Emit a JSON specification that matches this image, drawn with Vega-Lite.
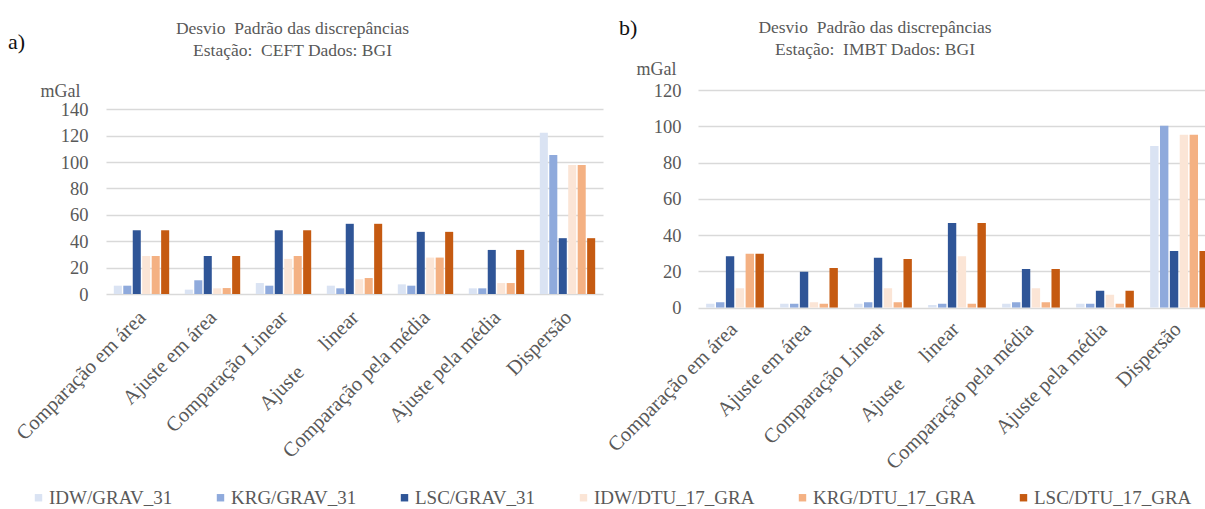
{
  "$schema": "https://vega.github.io/schema/vega-lite/v6.json",
  "padding": {"left": 8, "top": 17, "right": 0, "bottom": 0},
  "autosize": {"type": "pad"},
  "spacing": 1,
  "resolve": {"scale": {"x": "independent", "y": "independent", "xOffset": "independent"}},
  "config": {
    "font": "Liberation Serif, Times New Roman, DejaVu Serif, serif",
    "view": {"stroke": null},
    "title": {"font": "Liberation Serif, Times New Roman, DejaVu Serif, serif", "fontWeight": "normal"},
    "axis": {"labelFont": "Liberation Serif, Times New Roman, DejaVu Serif, serif", "titleFont": "Liberation Serif, Times New Roman, DejaVu Serif, serif"},
    "legend": {"labelFont": "Liberation Serif, Times New Roman, DejaVu Serif, serif"}
  },
  "hconcat": [
    {
      "title": {"text": "a)", "anchor": "start", "frame": "group", "fontSize": 22, "color": "#111111", "offset": 0, "dx": -98, "dy": 34},
      "resolve": {"scale": {"x": "independent", "y": "independent", "xOffset": "independent"}},
      "vconcat": [
        {
          "width": 497,
          "height": 204,
          "title": {"text": ["Desvio\u00a0\u00a0Padrão das discrepâncias", "Estação:\u00a0\u00a0CEFT Dados: BGI"], "anchor": "middle", "frame": "group", "dx": -62, "offset": 23, "fontSize": 17.5, "lineHeight": 22, "color": "#595959"},
          "data": {"values": [
            {"cat": "Comparação em área", "series": "IDW/GRAV_31", "value": 6.3},
            {"cat": "Comparação em área", "series": "KRG/GRAV_31", "value": 6.3},
            {"cat": "Comparação em área", "series": "LSC/GRAV_31", "value": 48.3},
            {"cat": "Comparação em área", "series": "IDW/DTU_17_GRA", "value": 28.8},
            {"cat": "Comparação em área", "series": "KRG/DTU_17_GRA", "value": 28.8},
            {"cat": "Comparação em área", "series": "LSC/DTU_17_GRA", "value": 48.3},
            {"cat": "Ajuste em área", "series": "IDW/GRAV_31", "value": 3.3},
            {"cat": "Ajuste em área", "series": "KRG/GRAV_31", "value": 10.4},
            {"cat": "Ajuste em área", "series": "LSC/GRAV_31", "value": 28.8},
            {"cat": "Ajuste em área", "series": "IDW/DTU_17_GRA", "value": 4.3},
            {"cat": "Ajuste em área", "series": "KRG/DTU_17_GRA", "value": 4.5},
            {"cat": "Ajuste em área", "series": "LSC/DTU_17_GRA", "value": 28.8},
            {"cat": "Comparação Linear", "series": "IDW/GRAV_31", "value": 8.3},
            {"cat": "Comparação Linear", "series": "KRG/GRAV_31", "value": 6.3},
            {"cat": "Comparação Linear", "series": "LSC/GRAV_31", "value": 48.3},
            {"cat": "Comparação Linear", "series": "IDW/DTU_17_GRA", "value": 26.6},
            {"cat": "Comparação Linear", "series": "KRG/DTU_17_GRA", "value": 28.8},
            {"cat": "Comparação Linear", "series": "LSC/DTU_17_GRA", "value": 48.3},
            {"cat": "Ajuste\u00a0\u00a0\u00a0\u00a0\u00a0\u00a0linear", "series": "IDW/GRAV_31", "value": 6.3},
            {"cat": "Ajuste\u00a0\u00a0\u00a0\u00a0\u00a0\u00a0linear", "series": "KRG/GRAV_31", "value": 4.3},
            {"cat": "Ajuste\u00a0\u00a0\u00a0\u00a0\u00a0\u00a0linear", "series": "LSC/GRAV_31", "value": 53.2},
            {"cat": "Ajuste\u00a0\u00a0\u00a0\u00a0\u00a0\u00a0linear", "series": "IDW/DTU_17_GRA", "value": 11.1},
            {"cat": "Ajuste\u00a0\u00a0\u00a0\u00a0\u00a0\u00a0linear", "series": "KRG/DTU_17_GRA", "value": 12.1},
            {"cat": "Ajuste\u00a0\u00a0\u00a0\u00a0\u00a0\u00a0linear", "series": "LSC/DTU_17_GRA", "value": 53.2},
            {"cat": "Comparação pela média", "series": "IDW/GRAV_31", "value": 7.3},
            {"cat": "Comparação pela média", "series": "KRG/GRAV_31", "value": 6.3},
            {"cat": "Comparação pela média", "series": "LSC/GRAV_31", "value": 47.1},
            {"cat": "Comparação pela média", "series": "IDW/DTU_17_GRA", "value": 27.6},
            {"cat": "Comparação pela média", "series": "KRG/DTU_17_GRA", "value": 27.6},
            {"cat": "Comparação pela média", "series": "LSC/DTU_17_GRA", "value": 47.1},
            {"cat": "Ajuste pela média", "series": "IDW/GRAV_31", "value": 4.3},
            {"cat": "Ajuste pela média", "series": "KRG/GRAV_31", "value": 4.3},
            {"cat": "Ajuste pela média", "series": "LSC/GRAV_31", "value": 33.4},
            {"cat": "Ajuste pela média", "series": "IDW/DTU_17_GRA", "value": 8.3},
            {"cat": "Ajuste pela média", "series": "KRG/DTU_17_GRA", "value": 8.3},
            {"cat": "Ajuste pela média", "series": "LSC/DTU_17_GRA", "value": 33.4},
            {"cat": "Dispersão", "series": "IDW/GRAV_31", "value": 122.2},
            {"cat": "Dispersão", "series": "KRG/GRAV_31", "value": 105.3},
            {"cat": "Dispersão", "series": "LSC/GRAV_31", "value": 42.3},
            {"cat": "Dispersão", "series": "IDW/DTU_17_GRA", "value": 97.7},
            {"cat": "Dispersão", "series": "KRG/DTU_17_GRA", "value": 97.7},
            {"cat": "Dispersão", "series": "LSC/DTU_17_GRA", "value": 42.3}
          ]},
          "mark": {"type": "bar"},
          "encoding": {
            "x": {
              "field": "cat", "type": "nominal", "sort": null,
              "scale": {"domain": ["Comparação em área", "Ajuste em área", "Comparação Linear", "Ajuste\u00a0\u00a0\u00a0\u00a0\u00a0\u00a0linear", "Comparação pela média", "Ajuste pela média", "Dispersão"], "paddingInner": 0.22, "paddingOuter": 0.11},
              "axis": {"title": null, "labelAngle": -45, "labelFontSize": 20.5, "labelColor": "#595959", "ticks": false, "tickSize": 0, "domain": false, "labelPadding": 13, "labelOffset": -6, "labelLimit": 400, "labelOverlap": false, "grid": false}
            },
            "xOffset": {"field": "series", "scale": {"domain": ["IDW/GRAV_31", "KRG/GRAV_31", "LSC/GRAV_31", "IDW/DTU_17_GRA", "KRG/DTU_17_GRA", "LSC/DTU_17_GRA"], "paddingInner": 0.15, "paddingOuter": 0}},
            "y": {
              "field": "value", "type": "quantitative",
              "scale": {"domain": [0, 154.6], "nice": false},
              "axis": {"values": [0, 20, 40, 60, 80, 100, 120, 140], "title": "mGal", "titleAngle": 0, "titleAlign": "left", "titleBaseline": "middle", "titleX": -66, "titleY": 1, "titleFontSize": 18, "titleFontWeight": "normal", "titleColor": "#595959", "labelFontSize": 18.5, "labelColor": "#595959", "labelPadding": 18, "ticks": false, "tickSize": 0, "domain": false, "grid": true, "gridColor": "#d9d9d9", "gridWidth": 1.3}
            },
            "color": {
              "field": "series", "type": "nominal",
              "scale": {"domain": ["IDW/GRAV_31", "KRG/GRAV_31", "LSC/GRAV_31", "IDW/DTU_17_GRA", "KRG/DTU_17_GRA", "LSC/DTU_17_GRA"], "range": ["#dae3f3", "#8faadc", "#2f5597", "#fbe5d6", "#f4b183", "#c55a11"]},
              "legend": {"orient": "none", "legendX": -77, "legendY": 398, "direction": "horizontal", "columns": 6, "title": null, "symbolType": "square", "symbolSize": 55, "symbolStrokeWidth": 0, "labelFontSize": 19, "labelColor": "#595959", "columnPadding": 38, "labelOffset": 1, "labelLimit": 300}
            }
          }
        }
      ]
    },
    {
      "title": {"text": "b)", "anchor": "start", "frame": "group", "fontSize": 22, "color": "#111111", "offset": 0, "dx": -79, "dy": 21.7},
      "resolve": {"scale": {"x": "independent", "y": "independent", "xOffset": "independent"}},
      "vconcat": [
        {
          "width": 508,
          "height": 217.7,
          "title": {"text": ["Desvio\u00a0\u00a0Padrão das discrepâncias", "Estação:\u00a0\u00a0IMBT Dados: BGI"], "anchor": "middle", "frame": "group", "dx": -77, "offset": 2, "fontSize": 17.5, "lineHeight": 22, "color": "#595959"},
          "data": {"values": [
            {"cat": "Comparação em área", "series": "IDW/GRAV_31", "value": 2.2},
            {"cat": "Comparação em área", "series": "KRG/GRAV_31", "value": 3.0},
            {"cat": "Comparação em área", "series": "LSC/GRAV_31", "value": 28.3},
            {"cat": "Comparação em área", "series": "IDW/DTU_17_GRA", "value": 10.7},
            {"cat": "Comparação em área", "series": "KRG/DTU_17_GRA", "value": 29.8},
            {"cat": "Comparação em área", "series": "LSC/DTU_17_GRA", "value": 29.8},
            {"cat": "Ajuste em área", "series": "IDW/GRAV_31", "value": 2.2},
            {"cat": "Ajuste em área", "series": "KRG/GRAV_31", "value": 2.2},
            {"cat": "Ajuste em área", "series": "LSC/GRAV_31", "value": 19.8},
            {"cat": "Ajuste em área", "series": "IDW/DTU_17_GRA", "value": 3.0},
            {"cat": "Ajuste em área", "series": "KRG/DTU_17_GRA", "value": 2.2},
            {"cat": "Ajuste em área", "series": "LSC/DTU_17_GRA", "value": 21.9},
            {"cat": "Comparação Linear", "series": "IDW/GRAV_31", "value": 2.2},
            {"cat": "Comparação Linear", "series": "KRG/GRAV_31", "value": 3.0},
            {"cat": "Comparação Linear", "series": "LSC/GRAV_31", "value": 27.6},
            {"cat": "Comparação Linear", "series": "IDW/DTU_17_GRA", "value": 10.7},
            {"cat": "Comparação Linear", "series": "KRG/DTU_17_GRA", "value": 3.0},
            {"cat": "Comparação Linear", "series": "LSC/DTU_17_GRA", "value": 26.8},
            {"cat": "Ajuste\u00a0\u00a0\u00a0\u00a0\u00a0\u00a0linear", "series": "IDW/GRAV_31", "value": 1.5},
            {"cat": "Ajuste\u00a0\u00a0\u00a0\u00a0\u00a0\u00a0linear", "series": "KRG/GRAV_31", "value": 2.2},
            {"cat": "Ajuste\u00a0\u00a0\u00a0\u00a0\u00a0\u00a0linear", "series": "LSC/GRAV_31", "value": 46.7},
            {"cat": "Ajuste\u00a0\u00a0\u00a0\u00a0\u00a0\u00a0linear", "series": "IDW/DTU_17_GRA", "value": 28.3},
            {"cat": "Ajuste\u00a0\u00a0\u00a0\u00a0\u00a0\u00a0linear", "series": "KRG/DTU_17_GRA", "value": 2.2},
            {"cat": "Ajuste\u00a0\u00a0\u00a0\u00a0\u00a0\u00a0linear", "series": "LSC/DTU_17_GRA", "value": 46.7},
            {"cat": "Comparação pela média", "series": "IDW/GRAV_31", "value": 2.2},
            {"cat": "Comparação pela média", "series": "KRG/GRAV_31", "value": 3.0},
            {"cat": "Comparação pela média", "series": "LSC/GRAV_31", "value": 21.3},
            {"cat": "Comparação pela média", "series": "IDW/DTU_17_GRA", "value": 10.7},
            {"cat": "Comparação pela média", "series": "KRG/DTU_17_GRA", "value": 3.0},
            {"cat": "Comparação pela média", "series": "LSC/DTU_17_GRA", "value": 21.3},
            {"cat": "Ajuste pela média", "series": "IDW/GRAV_31", "value": 2.2},
            {"cat": "Ajuste pela média", "series": "KRG/GRAV_31", "value": 2.2},
            {"cat": "Ajuste pela média", "series": "LSC/GRAV_31", "value": 9.4},
            {"cat": "Ajuste pela média", "series": "IDW/DTU_17_GRA", "value": 7.2},
            {"cat": "Ajuste pela média", "series": "KRG/DTU_17_GRA", "value": 2.2},
            {"cat": "Ajuste pela média", "series": "LSC/DTU_17_GRA", "value": 9.4},
            {"cat": "Dispersão", "series": "IDW/GRAV_31", "value": 89.1},
            {"cat": "Dispersão", "series": "KRG/GRAV_31", "value": 100.3},
            {"cat": "Dispersão", "series": "LSC/GRAV_31", "value": 31.2},
            {"cat": "Dispersão", "series": "IDW/DTU_17_GRA", "value": 95.4},
            {"cat": "Dispersão", "series": "KRG/DTU_17_GRA", "value": 95.4},
            {"cat": "Dispersão", "series": "LSC/DTU_17_GRA", "value": 31.2}
          ]},
          "mark": {"type": "bar", "clip": true},
          "encoding": {
            "x": {
              "field": "cat", "type": "nominal", "sort": null,
              "scale": {"domain": ["Comparação em área", "Ajuste em área", "Comparação Linear", "Ajuste\u00a0\u00a0\u00a0\u00a0\u00a0\u00a0linear", "Comparação pela média", "Ajuste pela média", "Dispersão"], "paddingInner": 0.22, "paddingOuter": 0.11, "range": [0, 518]},
              "axis": {"title": null, "labelAngle": -45, "labelFontSize": 20.5, "labelColor": "#595959", "ticks": false, "tickSize": 0, "domain": false, "labelPadding": 11, "labelOffset": -8, "labelLimit": 400, "labelOverlap": false, "grid": false}
            },
            "xOffset": {"field": "series", "scale": {"domain": ["IDW/GRAV_31", "KRG/GRAV_31", "LSC/GRAV_31", "IDW/DTU_17_GRA", "KRG/DTU_17_GRA", "LSC/DTU_17_GRA"], "paddingInner": 0.15, "paddingOuter": 0}},
            "y": {
              "field": "value", "type": "quantitative",
              "scale": {"domain": [0, 120], "nice": false},
              "axis": {"values": [0, 20, 40, 60, 80, 100, 120], "title": "mGal", "titleAngle": 0, "titleAlign": "left", "titleBaseline": "middle", "titleX": -62, "titleY": -21, "titleFontSize": 18, "titleFontWeight": "normal", "titleColor": "#595959", "labelFontSize": 18.5, "labelColor": "#595959", "labelPadding": 17, "ticks": false, "tickSize": 0, "domain": false, "grid": true, "gridColor": "#d9d9d9", "gridWidth": 1.3}
            },
            "color": {
              "field": "series", "type": "nominal",
              "scale": {"domain": ["IDW/GRAV_31", "KRG/GRAV_31", "LSC/GRAV_31", "IDW/DTU_17_GRA", "KRG/DTU_17_GRA", "LSC/DTU_17_GRA"], "range": ["#dae3f3", "#8faadc", "#2f5597", "#fbe5d6", "#f4b183", "#c55a11"]},
              "legend": {"orient": "none", "legendX": -77, "legendY": 398, "direction": "horizontal", "columns": 6, "title": null, "symbolType": "square", "symbolSize": 55, "symbolStrokeWidth": 0, "labelFontSize": 19, "labelColor": "#595959", "columnPadding": 38, "labelOffset": 1, "labelLimit": 300}
            }
          }
        }
      ]
    }
  ]
}
